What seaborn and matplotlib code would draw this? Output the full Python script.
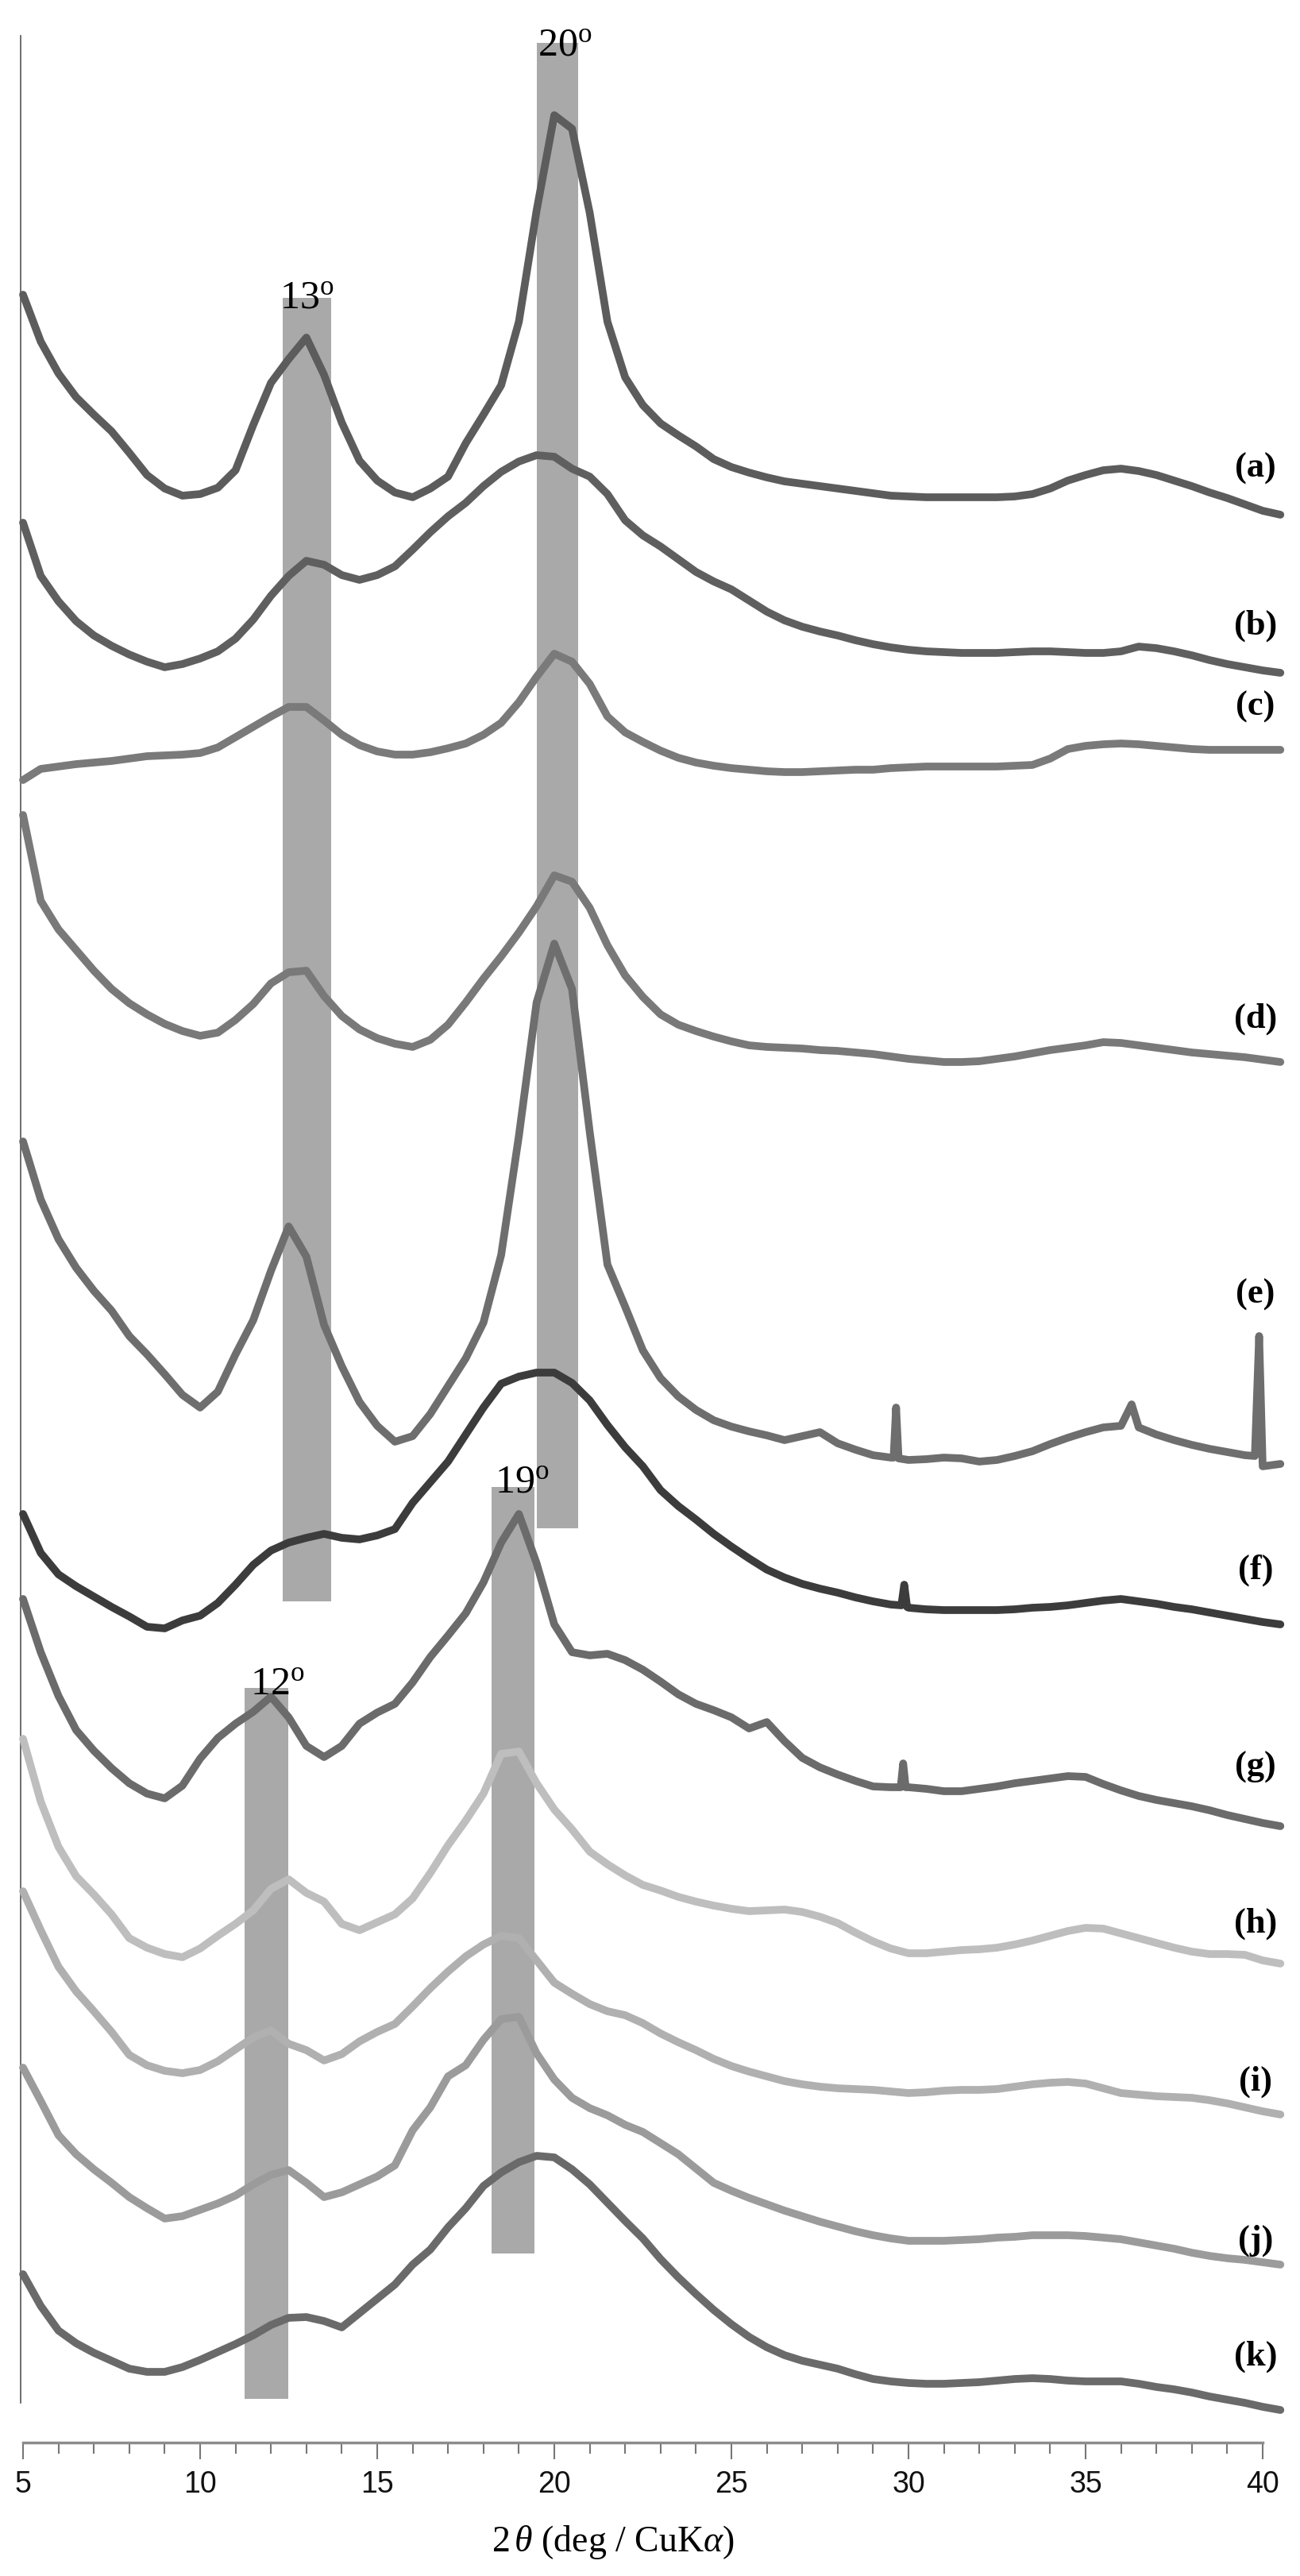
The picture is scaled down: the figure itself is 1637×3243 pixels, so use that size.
import numpy as np
import pandas as pd
import matplotlib
matplotlib.use("Agg")
import matplotlib.pyplot as plt
from matplotlib.ticker import FixedLocator
import seaborn as sns

sns.set_theme(style="white")
plt.rcParams["font.family"] = ["Liberation Sans", "DejaVu Sans"]
plt.rcParams["mathtext.fontset"] = "custom"
plt.rcParams["mathtext.rm"] = "Liberation Serif"
plt.rcParams["mathtext.it"] = "Liberation Serif:italic"
plt.rcParams["mathtext.bf"] = "Liberation Serif:bold"

# ── data: stacked XRD patterns (offset intensity, a.u.) ─────────
two_theta = [5.0, 5.5, 6.0, 6.5, 7.0, 7.5, 8.0, 8.5, 9.0, 9.5,
             10.0, 10.5, 11.0, 11.5, 12.0, 12.5, 13.0, 13.5, 14.0, 14.5,
             15.0, 15.5, 16.0, 16.5, 17.0, 17.5, 18.0, 18.5, 19.0, 19.5,
             20.0, 20.5, 21.0, 21.5, 22.0, 22.5, 23.0, 23.5, 24.0, 24.5,
             25.0, 25.5, 26.0, 26.5, 27.0, 27.5, 28.0, 28.5, 29.0, 29.5,
             30.0, 30.5, 31.0, 31.5, 32.0, 32.5, 33.0, 33.5, 34.0, 34.5,
             35.0, 35.5, 36.0, 36.5, 37.0, 37.5, 38.0, 38.5, 39.0, 39.5,
             40.0, 40.5]

a = [2704, 2645, 2605, 2575, 2553, 2532, 2505, 2477, 2460, 2451,
     2453, 2461, 2483, 2540, 2593, 2623, 2650, 2603, 2543, 2495,
     2470, 2455, 2449, 2460, 2475, 2517, 2553, 2590, 2670, 2810,
     2930, 2913, 2807, 2670, 2600, 2565, 2542, 2527, 2513, 2497,
     2487, 2480, 2474, 2469, 2466, 2463, 2460, 2457, 2454, 2451,
     2450, 2449, 2449, 2449, 2449, 2449, 2450, 2453, 2460, 2470,
     2477, 2483, 2485, 2482, 2477, 2470, 2463, 2455, 2448, 2440,
     2432, 2427]
b = [2417, 2350, 2318, 2293, 2275, 2262, 2251, 2242, 2235, 2239,
     2246, 2255, 2271, 2295, 2325, 2350, 2369, 2364, 2351, 2345,
     2351, 2362, 2383, 2405, 2425, 2442, 2463, 2481, 2494, 2502,
     2500, 2485, 2475, 2453, 2420, 2401, 2387, 2371, 2355, 2343,
     2333, 2319, 2305, 2294, 2286, 2280, 2275, 2269, 2264, 2260,
     2257, 2255, 2254, 2253, 2253, 2253, 2254, 2255, 2255, 2254,
     2253, 2253, 2255, 2261, 2259, 2255, 2250, 2244, 2239, 2235,
     2231, 2228]
c = [2093, 2107, 2110, 2113, 2115, 2117, 2120, 2123, 2124, 2125,
     2127, 2134, 2147, 2160, 2173, 2185, 2185, 2168, 2150, 2137,
     2129, 2125, 2125, 2128, 2133, 2139, 2150, 2165, 2191, 2223,
     2252, 2242, 2214, 2173, 2153, 2141, 2130, 2121, 2115, 2111,
     2108, 2106, 2104, 2103, 2103, 2104, 2105, 2106, 2106, 2108,
     2109, 2110, 2110, 2110, 2110, 2110, 2111, 2112, 2120, 2132,
     2136, 2138, 2139, 2138, 2136, 2134, 2132, 2131, 2131, 2131,
     2131, 2131]
d = [2049, 1941, 1905, 1879, 1853, 1830, 1812, 1798, 1786, 1777,
     1771, 1775, 1791, 1811, 1837, 1851, 1853, 1821, 1796, 1779,
     1768, 1761, 1757, 1766, 1785, 1813, 1843, 1871, 1901, 1934,
     1973, 1965, 1932, 1885, 1847, 1820, 1798, 1785, 1777, 1770,
     1764, 1759, 1757, 1756, 1755, 1753, 1752, 1750, 1748, 1745,
     1742, 1740, 1738, 1738, 1739, 1742, 1745, 1749, 1753, 1756,
     1759, 1763, 1762, 1759, 1756, 1753, 1750, 1748, 1746, 1744,
     1741, 1738]
e = [1638, 1565, 1515, 1479, 1450, 1425, 1393, 1370, 1345, 1319,
     1303, 1323, 1370, 1413, 1475, 1531, 1493, 1407, 1355, 1310,
     1280, 1260, 1267, 1295, 1330, 1365, 1410, 1495, 1645, 1813,
     1887, 1830, 1650, 1483, 1430, 1375, 1340, 1317, 1300, 1287,
     1279, 1273, 1268, 1262, 1267, 1272, 1258, 1250, 1243, 1240,
     1237, 1238, 1240, 1239, 1235, 1237, 1242, 1248, 1257, 1265,
     1272, 1278, 1280, 1278, 1269, 1262, 1256, 1251, 1247, 1243,
     1229, 1232]
f = [1169, 1120, 1093, 1078, 1065, 1052, 1040, 1027, 1025, 1035,
     1041, 1057, 1080, 1105, 1123, 1133, 1139, 1144, 1139, 1137,
     1142, 1150, 1183, 1209, 1235, 1269, 1303, 1333, 1342, 1347,
     1347, 1334, 1312, 1281, 1253, 1229, 1199, 1179, 1162, 1144,
     1128, 1113, 1099, 1089, 1081, 1075, 1070, 1064, 1059, 1055,
     1051, 1049, 1048, 1048, 1048, 1048, 1049, 1051, 1052, 1054,
     1057, 1060, 1062, 1059, 1056, 1052, 1049, 1045, 1041, 1037,
     1033, 1030]
g = [1062, 995, 940, 897, 871, 849, 830, 817, 811, 827,
     861, 887, 905, 920, 939, 913, 877, 863, 877, 905,
     919, 930, 957, 989, 1016, 1044, 1083, 1133, 1169, 1107,
     1030, 995, 991, 993, 985, 973, 958, 942, 930, 922,
     913, 899, 907, 883, 862, 850, 841, 833, 826, 825,
     825, 823, 820, 820, 823, 826, 830, 833, 836, 839,
     838, 829, 821, 814, 809, 805, 801, 796, 790, 785,
     780, 776]
h = [886, 807, 750, 713, 690, 665, 635, 623, 615, 611,
     622, 638, 653, 670, 697, 709, 692, 681, 653, 645,
     655, 665, 685, 717, 752, 783, 817, 867, 870, 830,
     797, 772, 744, 728, 714, 702, 695, 687, 681, 676,
     672, 669, 670, 671, 668, 662, 654, 642, 631, 622,
     616, 616, 618, 620, 621, 623, 627, 632, 638, 644,
     648, 647, 641, 635, 629, 623, 618, 615, 615, 614,
     607, 603]
i = [694, 645, 599, 568, 543, 517, 488, 475, 468, 465,
     469, 480, 495, 510, 519, 502, 494, 481, 489, 505,
     517, 527, 549, 572, 593, 612, 627, 638, 635, 607,
     579, 565, 552, 543, 538, 528, 515, 504, 494, 483,
     474, 467, 461, 455, 451, 448, 446, 445, 444, 442,
     440, 441, 443, 444, 444, 445, 448, 451, 453, 454,
     452, 446, 440, 438, 436, 435, 434, 431, 427, 422,
     417, 413]
j = [472, 430, 387, 363, 344, 327, 309, 295, 282, 285,
     293, 301, 311, 325, 337, 343, 327, 309, 315, 325,
     335, 349, 393, 422, 461, 475, 507, 533, 536, 490,
     457, 434, 421, 412, 400, 391, 377, 363, 345, 327,
     317, 308, 300, 292, 285, 278, 272, 266, 261, 257,
     254, 254, 254, 255, 256, 258, 259, 261, 261, 261,
     260, 258, 256, 252, 248, 244, 239, 235, 232, 230,
     227, 224]
k = [212, 172, 141, 125, 113, 103, 93, 89, 89, 95,
     104, 114, 124, 135, 148, 157, 158, 153, 145, 163,
     181, 199, 224, 243, 271, 295, 323, 340, 353, 361,
     359, 344, 325, 302, 279, 257, 231, 208, 187, 167,
     149, 133, 120, 110, 103, 98, 93, 86, 80, 77,
     75, 74, 74, 75, 76, 78, 80, 81, 80, 78,
     77, 77, 77, 74, 70, 67, 63, 58, 54, 50,
     45, 41]

# sharp reflections on top of the amorphous halo
e_spike_x = [29.58, 29.65, 29.72, 36.3, 39.78, 39.9]
e_spike_y = [1240, 1303, 1239, 1307, 1242, 1393]
f_spike_x = [29.8, 29.88, 29.96]
f_spike_y = [1054, 1080, 1052]
g_spike_x = [29.78, 29.85, 29.92]
g_spike_y = [825, 855, 825]

samples = ["a", "b", "c", "d", "e", "f", "g", "h", "i", "j", "k"]
series = {"a": a, "b": b, "c": c, "d": d, "e": e, "f": f,
          "g": g, "h": h, "i": i, "j": j, "k": k}
spikes = {"e": (e_spike_x, e_spike_y), "f": (f_spike_x, f_spike_y),
          "g": (g_spike_x, g_spike_y)}
label_y = [2485, 2287, 2185, 1792, 1445, 1098, 850, 653, 454, 254, 108]
label_x = 39.8

COLORS = {"a": "#5c5c5c", "b": "#5f5f5f", "c": "#7a7a7a", "d": "#797979",
          "e": "#6e6e6e", "f": "#3c3c3c", "g": "#6b6b6b", "h": "#bebebe",
          "i": "#b0b0b0", "j": "#9b9b9b", "k": "#6a6a6a"}

# highlighted reflection bands
band_text = ["13", "20", "19", "12"]
band_left = [12.33, 19.50, 18.23, 11.25]
band_right = [13.71, 20.67, 19.45, 12.49]
band_bottom = [1059, 1151, 238, 55]
band_top = [2700, 3021, 1203, 950]
band_text_x = [12.25, 19.53, 18.32, 11.41]
band_text_y = [2687, 3005, 1196, 941]

major_ticks = [5, 10, 15, 20, 25, 30, 35, 40]
minor_ticks = list(range(5, 41))

rows = []
for s in samples:
    xs = list(two_theta)
    ys = list(series[s])
    if s in spikes:
        xs += spikes[s][0]
        ys += spikes[s][1]
    rows.append(pd.DataFrame({"two_theta": xs, "intensity": ys, "sample": s}))
df = pd.concat(rows, ignore_index=True)

# ── figure ───────────────────────────────────────────────────────
fig = plt.figure(figsize=(16.37, 32.43), dpi=100)
ax = fig.add_axes([0, 168 / 3243, 1, 3075 / 3243])

bl = np.array(band_left)
br = np.array(band_right)
bb = np.array(band_bottom)
bt = np.array(band_top)
ax.bar((bl + br) / 2, bt - bb, bottom=bb, width=br - bl,
       color="#a9a9a9", linewidth=0, zorder=1)

sns.lineplot(data=df, x="two_theta", y="intensity", hue="sample",
             hue_order=samples, palette=COLORS, estimator=None, sort=True,
             legend=False, linewidth=7, ax=ax, zorder=3,
             solid_joinstyle="round", solid_capstyle="round")

for txt, x, y in zip(band_text, band_text_x, band_text_y):
    ax.text(x, y, txt + r"$^{\mathrm{o}}$", fontsize=36,
            family="Liberation Serif", ha="left", va="baseline",
            color="black", zorder=4)

for s, y in zip(samples, label_y):
    ax.text(label_x, y, f"({s})", fontsize=32, family="Liberation Serif",
            fontweight="bold", ha="center", va="center", color="black",
            zorder=4)

ax.set_xlim(4.35, 41.054)
ax.set_ylim(0, 3075)
ax.set_facecolor("white")
ax.grid(False)
ax.set_yticks([])
ax.set_ylabel("")

for side in ["top", "right"]:
    ax.spines[side].set_visible(False)
ax.spines["bottom"].set_bounds(5, 40)
ax.spines["bottom"].set_color("#8c8c8c")
ax.spines["bottom"].set_linewidth(2.5)
ax.spines["left"].set_position(("data", 4.93))
ax.spines["left"].set_bounds(50, 3030)
ax.spines["left"].set_color("#555555")
ax.spines["left"].set_linewidth(1.2)

ax.xaxis.set_major_locator(FixedLocator(major_ticks))
ax.xaxis.set_minor_locator(FixedLocator(minor_ticks))
ax.set_xticklabels([str(t) for t in major_ticks])
ax.tick_params(axis="x", which="major", direction="out", length=15, width=1.5,
               color="#777777", pad=10, labelsize=27, labelcolor="#111111",
               bottom=True)
ax.tick_params(axis="x", which="minor", direction="out", length=10, width=1.5,
               color="#777777", bottom=True)

ax.set_xlabel(r"2$\,\theta$ (deg / CuK$\alpha$)", fontsize=33,
              family="Liberation Serif", va="center", color="black")
ax.xaxis.set_label_coords(772 / 1637, -(3200 - 3075) / 3075)

fig.savefig("out.png", dpi=100)
plt.close(fig)
